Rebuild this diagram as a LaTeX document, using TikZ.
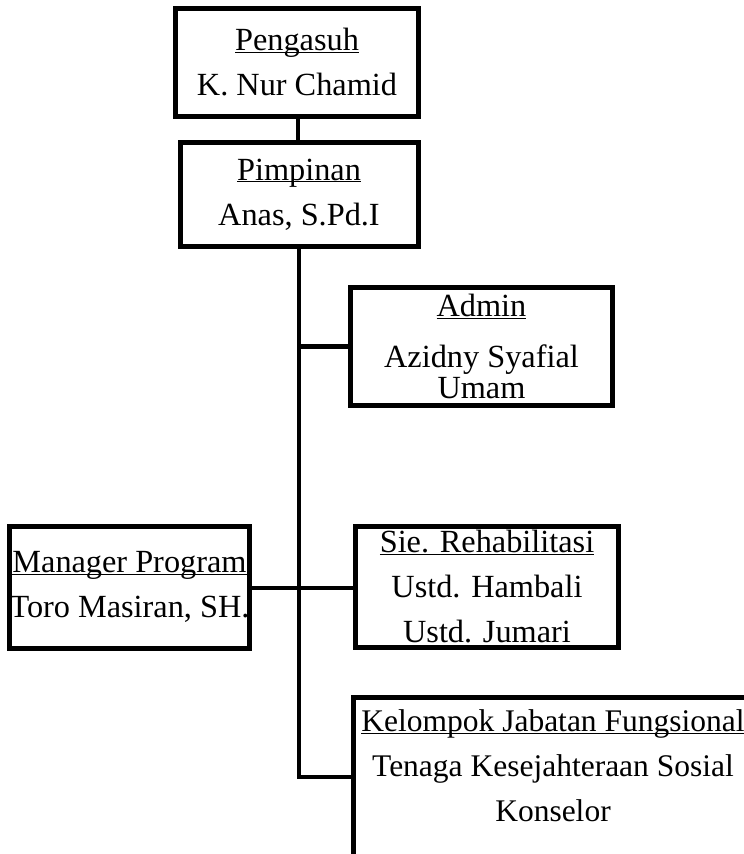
\documentclass[tikz,border=0pt]{standalone}
\usepackage{fontspec}
\setmainfont{Liberation Serif}

\tikzset{
	unit/.style={draw, line width=5pt, align=center, inner sep=0pt,
		font=\fontsize{32.3}{45}\selectfont},
	label text/.style={align=center, inner sep=0pt,
		font=\fontsize{31.5}{45}\selectfont},
	conn/.style={line width=4.5pt},
}

\begin{document}
\begin{tikzpicture}[x=1pt,y=-1pt]
	\clip (0,0) rectangle (744,854);

	\node[unit, minimum width=243pt, minimum height=108pt] (pengasuh) at (297,62.5)
		{\underbar{Pengasuh}\\K. Nur Chamid};
	\node[unit, minimum width=238pt, minimum height=104pt] (pimpinan) at (299,194.5)
		{\underbar{Pimpinan}\\Anas, S.Pd.I};
	\node[unit, minimum width=262pt, minimum height=118pt] (admin) at (481.5,346.5)
		{\underbar{Admin}\\[6pt]Azidny Syafial\\[-14pt]Umam};
	\node[unit, minimum width=240pt, minimum height=122pt] (manager) at (129.5,587)
		{\underbar{Manager Program}\\Toro Masiran, SH.};
	\node[unit, minimum width=263pt, minimum height=121pt] (sie) at (487,587)
		{\underbar{Sie. Rehabilitasi}\\Ustd. Hambali\\Ustd. Jumari};

	% box runs off the page at the right and bottom
	\node[unit, anchor=north west, minimum width=400pt, minimum height=200pt] (kjf) at (350.5,694.5) {};
	\node[label text, anchor=north] (kjftext) at ([yshift=-15pt]kjf.north)
		{\underbar{Kelompok Jabatan Fungsional}\\Tenaga Kesejahteraan Sosial\\Konselor};

	\coordinate (kjfin) at (kjf.west |- 0,777);

	\draw[conn] (pengasuh.south -| 298,0) -- (pimpinan.north -| 298,0);
	\draw[conn] (pimpinan.south) |- (kjfin);
	\draw[conn] (admin.west) -- (admin.west -| pimpinan.south);
	\draw[conn, line width=4pt] (manager.east |- 0,588) -- (sie.west |- 0,588);
\end{tikzpicture}
\end{document}
